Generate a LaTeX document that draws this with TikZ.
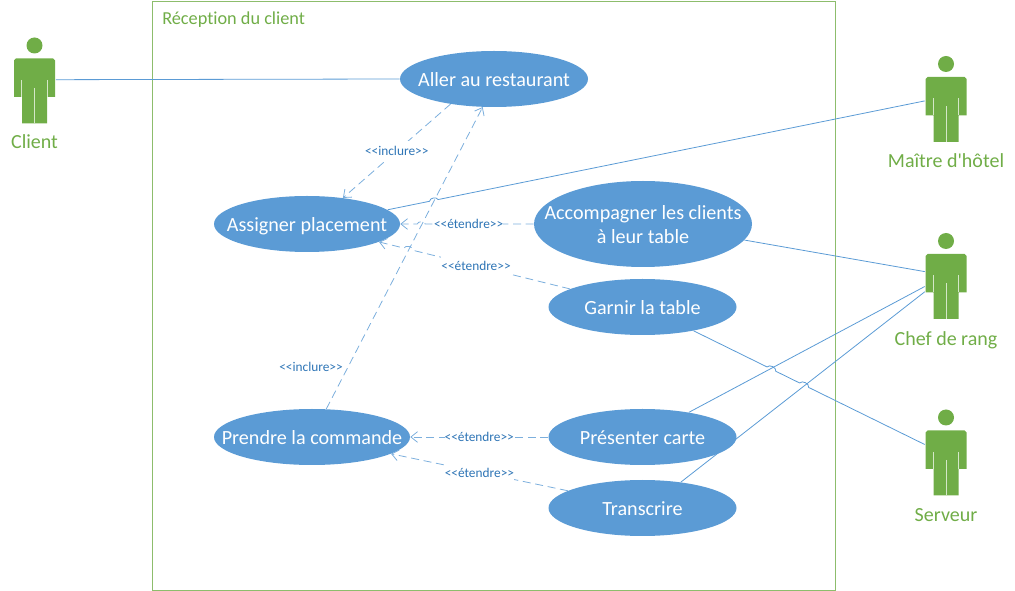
\documentclass[tikz,border=0pt]{standalone}
\usepackage{fontspec}
\setmainfont[Ligatures={TeXOff,NoCommon}]{Carlito}
\usetikzlibrary{arrows.meta, positioning, shapes.geometric, calc}
\definecolor{usegreen}{HTML}{70AD47}
\definecolor{useblue}{HTML}{5B9BD5}
\definecolor{usetext}{HTML}{2E75B6}
\newcommand{\lowstrut}{\rule[-.35em]{0pt}{1.45em}}
\tikzset{
    actor/.pic = {
    \fill[usegreen] (0,-45.5) circle (8);
    \fill[usegreen] (-20.5,-30.5) -- (-18.5,-32.5) -- (18.5,-32.5) -- (20.5,-30.5) -- (20.5,6)
      -- (12.5,6) -- (12.5,32.5) -- (-12.5,32.5) -- (-12.5,6) -- (-20.5,6) -- cycle;
    \draw[white!70!usegreen, line width=0.6pt] (-12.8,-11) -- (-12.8,6);
    \draw[white!70!usegreen, line width=0.6pt] (12.8,-11) -- (12.8,6);
    \draw[white!70!usegreen, line width=0.6pt] (0,-3) -- (0,32.5);
    \node[actorbox] (-box) at (0,0) {};
    },
    actorbox/.style={draw=none, fill=none, rectangle, inner sep=0pt, minimum width=31.5pt, minimum height=48.75pt},
    actorname/.style={text=usegreen, font=\fontsize{15}{18}\selectfont, inner sep=0pt, anchor=center,
      execute at begin node=\lowstrut},
    usecase/.style={ellipse, fill=useblue, text=white, align=center, inner xsep=-20pt, inner ysep=-10pt,
      minimum width=141pt, minimum height=42pt, font=\fontsize{15.1}{18}\selectfont,
      execute at begin node=\lowstrut, execute at end node=\lowstrut},
    assoc/.style={draw=useblue, line width=0.6pt},
    depend/.style={draw=useblue!80, line width=0.6pt, dashed, dash pattern=on 6pt off 3.5pt,
      -{Straight Barb[length=5pt, width=8pt]}},
    deplabel/.style={fill=white, text=usetext, font=\fontsize{10}{11}\selectfont, inner sep=0pt,
      execute at begin node=\lowstrut},
}
\begin{document}
\begin{tikzpicture}[x=0.75pt, y=-0.75pt]
    \useasboundingbox (0,0) rectangle (1015,591);

    \node[draw=usegreen!80, line width=0.6pt, rectangle, minimum width=512.25pt, minimum height=441.75pt,
      inner sep=0pt] (frame) at (493.5,295.5) {};
    \node[right, text=usegreen, font=\fontsize{13.7}{16}\selectfont, inner sep=0pt] (title) at (162,18) {\lowstrut Réception du client};

    % use cases
    \node[usecase] (aller) at (494,79) {Aller au restaurant};
    \node[usecase, minimum width=139.5pt] (assigner) at (307,224) {Assigner placement};
    \node[usecase, minimum width=163.5pt, minimum height=64.5pt] (accompagner) at (643,224) {\rule{0pt}{16.8pt}Accompagner les clients\\à leur table};
    \node[usecase] (garnir) at (642.5,307) {Garnir la table};
    \node[usecase, minimum width=147pt] (prendre) at (312,437) {Prendre la commande};
    \node[usecase] (presenter) at (642.5,437) {Présenter carte};
    \node[usecase] (transcrire) at (642.5,508) {Transcrire};

    % actors
    \pic (client) at (34.5,91) {actor};
    \pic (maitre) at (946,109.5) {actor};
    \pic (chef) at (946,286.5) {actor};
    \pic (serveur) at (946,463) {actor};

    \node[actorname] (clientname) at (34.5,141) {Client};
    \node[actorname] (maitrename) at (946,160.5) {Maître d'hôtel};
    \node[actorname] (chefname) at (946,338) {Chef de rang};
    \node[actorname] (serveurname) at (946,514) {Serveur};

    % associations
    \draw[assoc] (client-box.28) -- (aller.west);
    \draw[assoc] (assigner.10.6) -- ($(assigner.10.6)!.078!(maitre-box.158)$) to[bend left=75] ($(assigner.10.6)!.094!(maitre-box.158)$) -- (maitre-box.158);
    \draw[assoc] (accompagner.-9.7) -- (chef-box.145.4);
    \draw[assoc] (presenter.28.3) -- (chef-box.west);
    \draw[assoc] (transcrire.34.4) -- (chef-box.194.7);
    \draw[assoc] (garnir.-25.7) -- ($(garnir.-25.7)!.318!(serveur-box.139.4)$) to[bend left=75] ($(garnir.-25.7)!.356!(serveur-box.139.4)$)
      -- ($(garnir.-25.7)!.459!(serveur-box.139.4)$) to[bend left=75] ($(garnir.-25.7)!.498!(serveur-box.139.4)$) -- (serveur-box.139.4);

    % include and extend
    \draw[depend] (aller.210) -- node[deplabel] (inclure1) {<<inclure>>} (assigner.36.6);
    \draw[depend] (prendre.63.2) -- node[pos=.142, left, deplabel, fill=none, xshift=-4pt] (inclure2) {<<inclure>>} (aller.248);
    \draw[depend] (accompagner.west) -- node[pos=.6, deplabel] (etendre1) {<<étendre>>} ($(accompagner.west)!.813!(assigner.east)$)
      to[bend right=75] ($(accompagner.west)!.873!(assigner.east)$) -- (assigner.east);
    \draw[depend] (garnir.166.2) -- node[pos=.6, deplabel] (etendre2) {<<étendre>>} ($(garnir.166.2)!.82!(assigner.-14.2)$)
      to[bend right=75] ($(garnir.166.2)!.87!(assigner.-14.2)$) -- (assigner.-14.2);
    \draw[depend] (presenter.west) -- node[deplabel] (etendre3) {<<étendre>>} (prendre.east);
    \draw[depend] (transcrire.167.9) -- node[deplabel] (etendre4) {<<étendre>>} (prendre.-12.3);
\end{tikzpicture}
\end{document}
